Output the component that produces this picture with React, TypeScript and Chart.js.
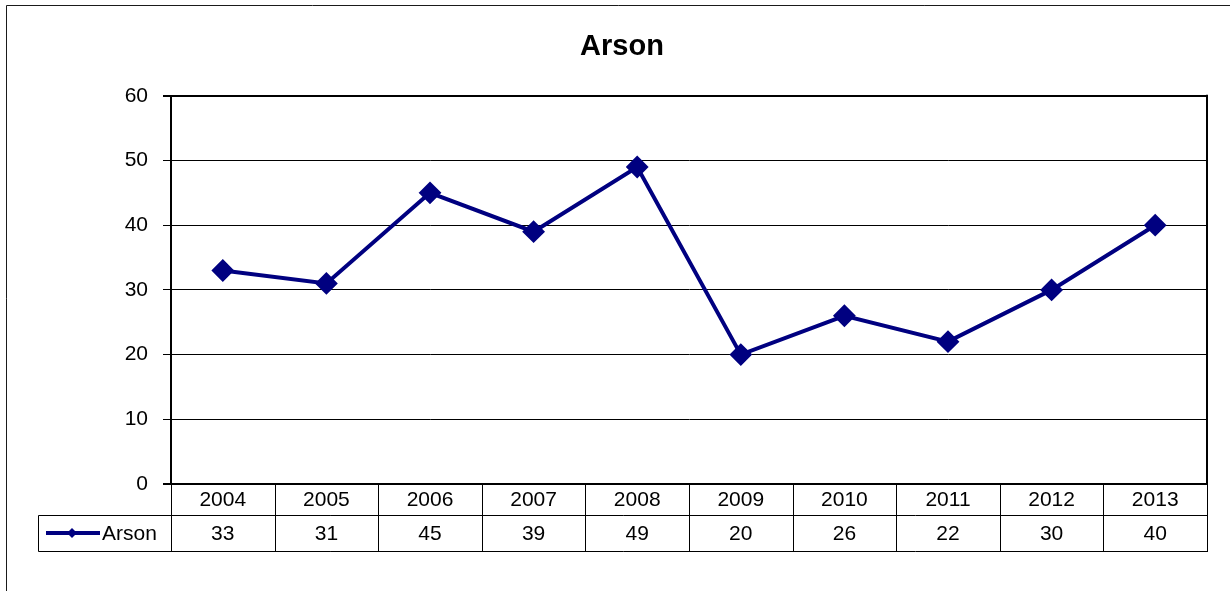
import React, { useEffect, useRef } from 'react';
import { Chart, registerables } from 'chart.js';

Chart.register(...registerables);

const titleText = 'Arson';
const seriesName = 'Arson';
const years = ['2004', '2005', '2006', '2007', '2008', '2009', '2010', '2011', '2012', '2013'];
const arsonCounts = [33, 31, 45, 39, 49, 20, 26, 22, 30, 40];
const yMin = 0;
const yMax = 60;
const yStep = 10;

const NAVY = '#000080';
const FONT = "'Liberation Sans', Arial, sans-serif";
const TEXT_SIZE = 21;

const tablePlugin = {
  id: 'excelTable',
  beforeDraw(chart: any) {
    const { ctx } = chart;
    ctx.save();
    ctx.fillStyle = '#ffffff';
    ctx.fillRect(0, 0, chart.width, chart.height);
    ctx.strokeStyle = '#1a1a1a';
    ctx.lineWidth = 1;
    ctx.beginPath();
    ctx.moveTo(6.5, chart.height + 5);
    ctx.lineTo(6.5, 5.5);
    ctx.lineTo(chart.width + 5, 5.5);
    ctx.stroke();
    ctx.restore();
  },
  afterDraw(chart: any) {
    const { ctx, chartArea } = chart;
    const { right, top, bottom } = chartArea;
    const xs = chart.scales.x;
    const step = xs.getPixelForValue(1) - xs.getPixelForValue(0);
    const row1 = bottom;
    const row2 = bottom + 31;
    const row3 = bottom + 67;
    const legendLeft = 38.5;
    const snap = (v: number) => Math.round(v) + 0.5;

    ctx.save();
    ctx.strokeStyle = '#000000';
    // right border of plot area
    ctx.lineWidth = 2;
    ctx.beginPath();
    ctx.moveTo(Math.round(right), top - 1);
    ctx.lineTo(Math.round(right), bottom);
    ctx.stroke();

    ctx.lineWidth = 1;
    ctx.beginPath();
    ctx.moveTo(legendLeft, snap(row2));
    ctx.lineTo(Math.round(right) + 1, snap(row2));
    ctx.moveTo(legendLeft, snap(row3));
    ctx.lineTo(Math.round(right) + 1, snap(row3));
    for (let i = 0; i <= years.length; i++) {
      const bx = i < years.length ? xs.getPixelForValue(i) - step / 2 : xs.getPixelForValue(years.length - 1) + step / 2;
      ctx.moveTo(snap(bx), row1);
      ctx.lineTo(snap(bx), snap(row3));
    }
    ctx.moveTo(legendLeft, snap(row2));
    ctx.lineTo(legendLeft, snap(row3));
    ctx.stroke();

    ctx.fillStyle = '#000000';
    ctx.font = `${TEXT_SIZE}px ${FONT}`;
    ctx.textAlign = 'center';
    ctx.textBaseline = 'middle';
    const yHead = (row1 + row2) / 2 + 1;
    const yVal = (row2 + row3) / 2 + 1;
    years.forEach((yr, i) => {
      const cx = xs.getPixelForValue(i);
      ctx.fillText(yr, cx, yHead);
      ctx.fillText(String(arsonCounts[i]), cx, yVal);
    });

    // legend key
    const ly = Math.round(yVal) - 1;
    ctx.strokeStyle = NAVY;
    ctx.lineWidth = 4;
    ctx.beginPath();
    ctx.moveTo(46, ly);
    ctx.lineTo(100, ly);
    ctx.stroke();
    ctx.fillStyle = NAVY;
    ctx.beginPath();
    const dx = 72;
    const r = 5;
    ctx.moveTo(dx - r, ly);
    ctx.lineTo(dx, ly - r);
    ctx.lineTo(dx + r, ly);
    ctx.lineTo(dx, ly + r);
    ctx.closePath();
    ctx.fill();
    ctx.fillStyle = '#000000';
    ctx.textAlign = 'left';
    ctx.fillText(seriesName, 102, yVal);
    ctx.restore();
  },
};

export default function App() {
  const canvasRef = useRef<HTMLCanvasElement | null>(null);

  useEffect(() => {
    const canvas = canvasRef.current;
    if (!canvas) return;
    const chart = new Chart(canvas, {
      type: 'line',
      data: {
        labels: years,
        datasets: [
          {
            label: seriesName,
            data: arsonCounts,
            borderColor: NAVY,
            backgroundColor: NAVY,
            borderWidth: 4,
            pointStyle: 'rectRot',
            pointRadius: 10,
            pointBorderWidth: 2,
            pointBackgroundColor: NAVY,
            pointBorderColor: NAVY,
            tension: 0,
          },
        ],
      },
      options: {
        responsive: false,
        animation: false,
        layout: { padding: { left: 37, right: 23, top: 0, bottom: 107 } },
        plugins: {
          legend: { display: false },
          tooltip: { enabled: false },
          title: {
            display: true,
            text: titleText,
            color: '#000000',
            font: { family: FONT, size: 29, weight: 'bold' },
            padding: { top: 30, bottom: 31 },
          },
        },
        scales: {
          x: {
            display: false,
            offset: true,
          },
          y: {
            min: yMin,
            max: yMax,
            ticks: {
              stepSize: yStep,
              color: '#000000',
              padding: 15,
              font: { family: FONT, size: TEXT_SIZE },
            },
            grid: {
              color: '#000000',
              lineWidth: (c: any) => (c.tick && (c.tick.value === yMin || c.tick.value === yMax) ? 2 : 1),
              tickLength: 8,
              drawTicks: true,
            },
            border: { display: true, color: '#000000', width: 2 },
            afterFit: (scale: any) => {
              scale.width = 134;
            },
          },
        },
      },
      plugins: [tablePlugin],
    });
    return () => chart.destroy();
  }, []);

  return (
    <div style={{ position: 'absolute', left: 0, top: 0, width: 1230, height: 591 }}>
      <canvas ref={canvasRef} width={1230} height={591} style={{ display: 'block' }} />
    </div>
  );
}
